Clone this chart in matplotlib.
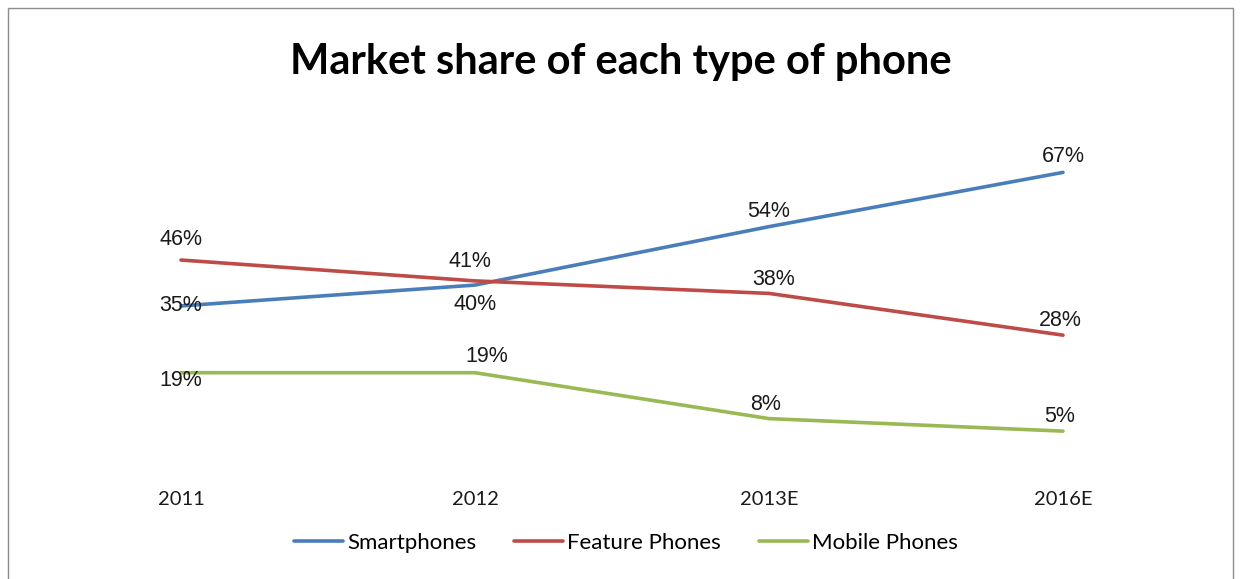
import matplotlib.pyplot as plt
from matplotlib.patches import Rectangle

years = ["2011", "2012", "2013E", "2016E"]
smartphones = [35, 40, 54, 67]
feature_phones = [46, 41, 38, 28]
mobile_phones = [19, 19, 8, 5]

# label offsets in pixels (dx, dy) for each point
smart_offsets = [(0, 0), (0, -19), (0, 15), (0, 16)]
feature_offsets = [(0, 21), (-5, 19), (5, 14), (-3, 15)]
mobile_offsets = [(0, -8), (12, 16), (-3, 14), (-3, 15)]

series = [
    ("Smartphones", smartphones, "#4A7EBB", smart_offsets),
    ("Feature Phones", feature_phones, "#BE4B48", feature_offsets),
    ("Mobile Phones", mobile_phones, "#98B954", mobile_offsets),
]

W, H = 1241, 579
fig = plt.figure(figsize=(W / 100, H / 100), dpi=100)
fig.patch.set_facecolor("white")

# chart border
fig.add_artist(Rectangle((8 / W, -0.05), (1233 - 8) / W, (H - 8) / H + 0.05,
                         transform=fig.transFigure, fill=False,
                         edgecolor="#8c8c8c", linewidth=1.0))

ax = fig.add_axes([34 / W, (H - 452) / H, 1176 / W, (452 - 139) / H])
x = list(range(len(years)))

for name, vals, color, offs in series:
    ax.plot(x, vals, color=color, linewidth=2.6, label=name,
            solid_capstyle="round", solid_joinstyle="round")
    for xi, v, (dx, dy) in zip(x, vals, offs):
        ax.annotate(f"{v}%", (xi, v), xytext=(dx, dy), textcoords="offset pixels",
                    ha="center", va="center", fontsize=15.5,
                    family="Liberation Sans", color="#1a1a1a")

ax.set_xlim(-0.5, 3.5)
ax.set_ylim(0, 75)
ax.set_yticks([])
ax.set_xticks(x)
ax.set_xticklabels(years, family="Lato", fontsize=14.5, color="#1a1a1a")
ax.tick_params(axis="x", length=0, pad=28)
for s in ax.spines.values():
    s.set_visible(False)

fig.text(0.5, 1 - 62 / H, "Market share of each type of phone", ha="center",
         va="center", family="Lato", fontweight="bold", fontsize=30, color="black")

fig.legend(loc="center", bbox_to_anchor=(626 / W, 1 - 543 / H), ncol=3,
           frameon=False, handlelength=2.2, handletextpad=0.2, columnspacing=1.7,
           prop={"family": "Lato", "size": 16})

fig.savefig("out.png", dpi=100)
